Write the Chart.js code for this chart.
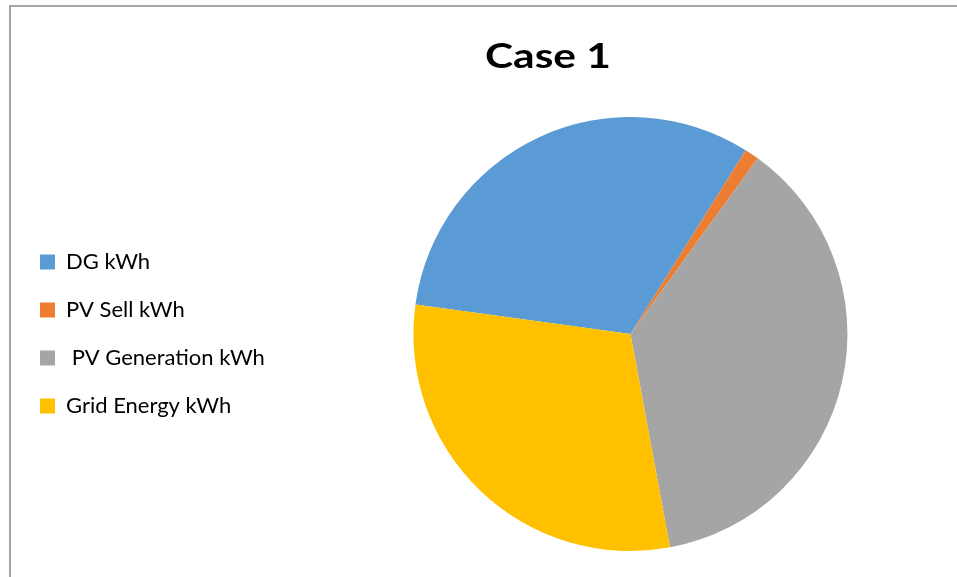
<!DOCTYPE html>
<html>
<head>
<meta charset="utf-8">
<script src="https://cdn.jsdelivr.net/npm/chart.js@4"></script>
<style>
    html, body { margin: 0; padding: 0; background: #fff; overflow: hidden; }
    #frame {
        position: absolute;
        left: 9px;
        top: 5px;
        width: 1100px;
        height: 700px;
        border-left: 2px solid #a6a6a6;
        border-top: 2px solid #a6a6a6;
    }
    #box {
        position: absolute;
        left: 0;
        top: 0;
        width: 1074px;
        height: 570px;
    }
</style>
</head>
<body>
<div id="frame">
    <div id="box"><canvas id="caseChart"></canvas></div>
</div>
<script>
const chartTitle = 'Case 1';
const categories = ['DG kWh', 'PV Sell kWh', ' PV Generation kWh', 'Grid Energy kWh'];
const energyShare = [31.74, 1.07, 37.10, 30.09];
const sliceColors = ['#5B9BD5', '#ED7D31', '#A5A5A5', '#FFC000'];

// title sits over the whole chart object, not just the plot area
const wideTitle = {
    id: 'wideTitle',
    afterDraw(chart) {
        const c = chart.ctx;
        c.save();
        c.translate(chart.width / 2, 50);
        c.scale(1.25, 1);
        c.font = 'bold 34px Lato';
        c.fillStyle = '#000';
        c.textAlign = 'center';
        c.textBaseline = 'middle';
        c.fillText(chartTitle, 0, 0);
        c.restore();
    },
};

document.addEventListener('DOMContentLoaded', function () {
    drawCase();
});

function drawCase() {
    const ctx = document.getElementById('caseChart');

    new Chart(ctx, {
        type: 'pie',
        data: {
            labels: categories,
            datasets: [{
                data: energyShare,
                backgroundColor: sliceColors,
                borderWidth: 0,
            }],
        },
        options: {
            responsive: true,
            maintainAspectRatio: false,
            animation: false,
            rotation: 277.83,
            layout: {
                padding: { top: 110, left: 3, right: 99, bottom: 26 },
            },
            plugins: {
                legend: {
                    position: 'left',
                    fullSize: false,
                    labels: {
                        color: '#000',
                        font: { family: 'Lato', size: 22 },
                        boxWidth: 15,
                        boxHeight: 15,
                        padding: 26,
                    },
                },
                tooltip: { enabled: false },
            },
        },
        plugins: [wideTitle],
    });
}
</script>
</body>
</html>
